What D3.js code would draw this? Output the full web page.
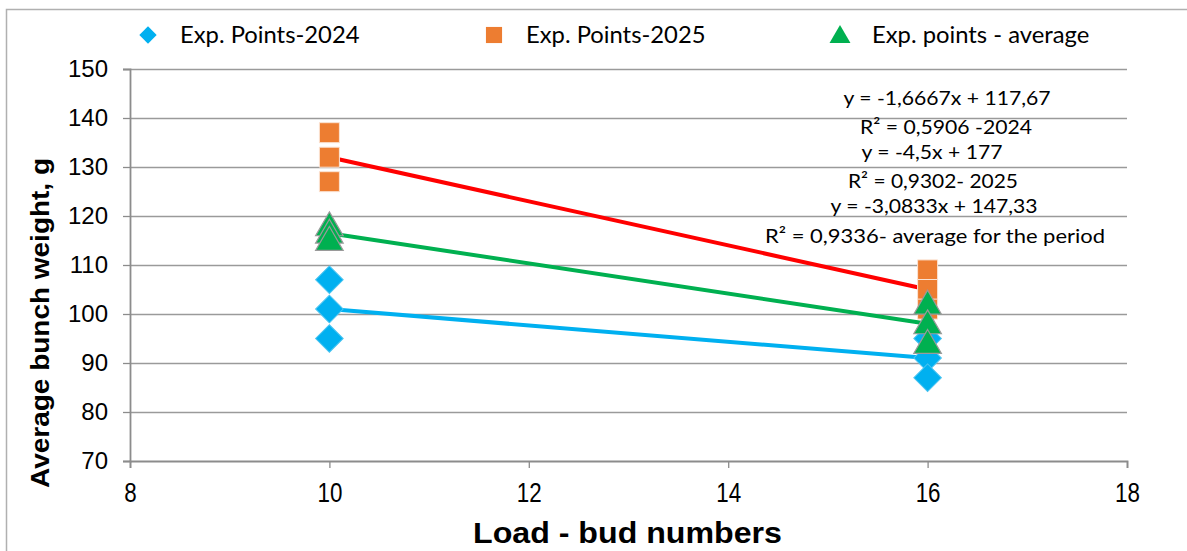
<!DOCTYPE html>
<html>
<head>
<meta charset="utf-8">
<script src="https://cdn.jsdelivr.net/npm/d3@7"></script>
<style>
  html, body { margin: 0; padding: 0; background: #fff; }
  svg { display: block; }
</style>
</head>
<body>
<svg id="chart" width="1187" height="551"></svg>
<script>
// Bud load (x) and bunch weight (g) for each season
const loads2024 = [10, 10, 10, 16, 16, 16];
const weights2024 = [107, 101, 95, 95, 91, 87];
const loads2025 = [10, 10, 10, 16, 16, 16];
const weights2025 = [137, 132, 127, 109, 105, 101];
const loadsAvg = [10, 10, 10, 16, 16, 16];
const weightsAvg = [118, 116.5, 115, 102, 98, 94];

// Linear trend lines: slope, intercept, x range
const trendNames = ["2024", "2025", "average"];
const trendSlopes = [-1.6667, -4.5, -3.0833];
const trendIntercepts = [117.67, 177, 147.33];
const trendRange = [10, 16];

const xTicks = [8, 10, 12, 14, 16, 18];
const yTicks = [70, 80, 90, 100, 110, 120, 130, 140, 150];

const legendLabels = ["Exp. Points-2024", "Exp. Points-2025", "Exp. points - average"];
const equationLabels = [
  "y = -1,6667x + 117,67",
  "R\u00B2 = 0,5906 -2024",
  "y = -4,5x + 177",
  "R\u00B2 = 0,9302- 2025",
  "y = -3,0833x + 147,33",
  "R\u00B2 = 0,9336- average for the period"
];

const svg = d3.select("#chart");
const W = 1187, H = 551;
const m = { left: 130, right: 60, top: 69, bottom: 90 };

const x = d3.scaleLinear().domain([8, 18]).range([m.left, W - m.right]);
const y = d3.scaleLinear().domain([70, 150]).range([H - m.bottom, m.top]);

const gridColor = "#9a9a9a";
const axisColor = "#8c8c8c";
const calibri = "Lato, 'Noto Sans', sans-serif";
const arial = "'Liberation Sans', Arial, sans-serif";

// outer frame
svg.append("rect")
  .attr("x", 6.5).attr("y", 9.5)
  .attr("width", W).attr("height", H)
  .attr("fill", "none").attr("stroke", "#b0b0b0").attr("stroke-width", 1.5);

// horizontal gridlines
svg.append("g").selectAll("line").data(yTicks.filter(d => d > 70)).join("line")
  .attr("x1", x(8)).attr("x2", x(18))
  .attr("y1", d => Math.round(y(d)) + 0.5).attr("y2", d => Math.round(y(d)) + 0.5)
  .attr("stroke", gridColor).attr("stroke-width", 1.3);

// axes
const yAxis = svg.append("g")
  .attr("transform", `translate(${x(8)},0)`)
  .call(d3.axisLeft(y).tickValues(yTicks).tickSize(7).tickPadding(15));
const xAxis = svg.append("g")
  .attr("transform", `translate(0,${y(70)})`)
  .call(d3.axisBottom(x).tickValues(xTicks).tickSize(7).tickPadding(14));

[yAxis, xAxis].forEach(g => {
  g.select(".domain").attr("stroke", axisColor).attr("stroke-width", 1.8);
  g.selectAll(".tick line").attr("stroke", axisColor).attr("stroke-width", 1.3);
  g.selectAll(".tick text")
    .attr("fill", "#000")
    .style("font-family", arial)
    .style("font-size", "24px");
});
// narrow, tall tick numbers on the load axis
xAxis.selectAll(".tick text")
  .style("font-size", "28px")
  .attr("transform", "scale(0.8,1)");

// axis titles
svg.append("text")
  .attr("transform", `translate(49,323) rotate(-90)`)
  .attr("text-anchor", "middle")
  .attr("textLength", 330).attr("lengthAdjust", "spacingAndGlyphs")
  .style("font-family", arial)
  .style("font-weight", "bold").style("font-size", "25px")
  .text("Average bunch weight, g");

svg.append("text")
  .attr("x", 473).attr("y", 543)
  .attr("textLength", 309).attr("lengthAdjust", "spacingAndGlyphs")
  .style("font-family", arial)
  .style("font-weight", "bold").style("font-size", "29.5px")
  .text("Load - bud numbers");

// trend lines
const trendColors = ["#00B0F0", "#FF0000", "#00B050"];
const lineGen = d3.line().x(d => x(d[0])).y(d => y(d[1]));
trendNames.forEach((name, i) => {
  const pts = trendRange.map(v => [v, trendSlopes[i] * v + trendIntercepts[i]]);
  svg.append("path")
    .attr("d", lineGen(pts))
    .attr("fill", "none")
    .attr("stroke", trendColors[i])
    .attr("stroke-width", 4)
    .attr("stroke-linecap", "round");
});

// markers
const diamond = d3.symbol().type(d3.symbolSquare).size(380);
const square = d3.symbol().type(d3.symbolSquare).size(400);
const triangle = d3.symbol().type(d3.symbolTriangle).size(330);

svg.append("g").selectAll("path")
  .data(d3.zip(loads2025, weights2025)).join("path")
  .attr("d", square)
  .attr("transform", d => `translate(${x(d[0])},${y(d[1])})`)
  .attr("fill", "#ED7D31").attr("stroke", "#fbe3d3").attr("stroke-width", 1);

svg.append("g").selectAll("path")
  .data(d3.zip(loads2024, weights2024)).join("path")
  .attr("d", diamond)
  .attr("transform", d => `translate(${x(d[0])},${y(d[1])}) rotate(45)`)
  .attr("fill", "#00B0F0").attr("stroke", "#4cc4f0").attr("stroke-width", 1);

svg.append("g").selectAll("path")
  .data(d3.zip(loadsAvg, weightsAvg)).join("path")
  .attr("d", triangle)
  .attr("transform", d => `translate(${x(d[0])},${y(d[1]) + 2})`)
  .attr("fill", "#00B050").attr("stroke", "#9a9a9a").attr("stroke-width", 1.2);

// legend
const legendX = [148, 494, 840];
const legendShapes = [
  { d: d3.symbol().type(d3.symbolSquare).size(150)(), rot: 45, fill: "#00B0F0", dy: 0 },
  { d: d3.symbol().type(d3.symbolSquare).size(260)(), rot: 0, fill: "#ED7D31", dy: 0 },
  { d: d3.symbol().type(d3.symbolTriangle).size(190)(), rot: 0, fill: "#00B050", dy: 2 }
];
const legend = svg.append("g");
legendLabels.forEach((lab, i) => {
  legend.append("path")
    .attr("d", legendShapes[i].d)
    .attr("transform", `translate(${legendX[i]},${35 + legendShapes[i].dy}) rotate(${legendShapes[i].rot})`)
    .attr("fill", legendShapes[i].fill);
  legend.append("text")
    .attr("x", legendX[i] + 32).attr("y", 43)
    .style("font-family", calibri).style("font-size", "23.8px")
    .attr("fill", "#000")
    .text(lab);
});

// regression equations
const eqCenters = [947, 946, 932, 933, 934, 935];
const eqBaselines = [105, 134, 159, 188, 213, 243];
const eqWidths = [207, 172, 141, 170, 207, 340];
svg.append("g").selectAll("text").data(equationLabels).join("text")
  .attr("x", (d, i) => eqCenters[i])
  .attr("y", (d, i) => eqBaselines[i])
  .attr("text-anchor", "middle")
  .attr("textLength", (d, i) => eqWidths[i])
  .attr("lengthAdjust", "spacingAndGlyphs")
  .style("font-family", calibri).style("font-size", "20px")
  .attr("fill", "#000")
  .text(d => d);
</script>
</body>
</html>
